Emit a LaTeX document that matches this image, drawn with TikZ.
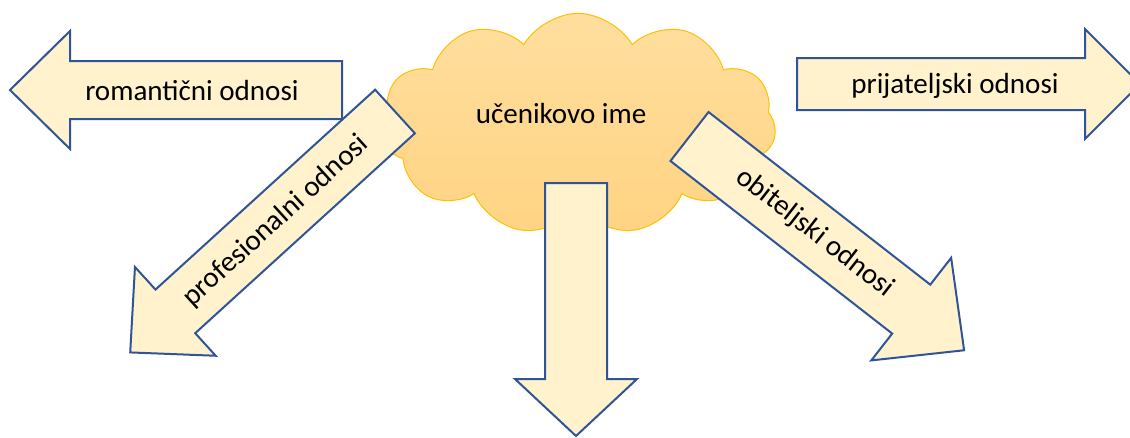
\documentclass[tikz,border=0pt]{standalone}
\usepackage{fontspec}
\setmainfont{Carlito}
\usetikzlibrary{shapes.symbols}
\definecolor{arrowfill}{HTML}{FFF2CC}
\definecolor{arrowline}{HTML}{2F5597}
\definecolor{cloudtop}{HTML}{FFDE9E}
\definecolor{cloudbottom}{HTML}{FFD483}
\definecolor{cloudline}{HTML}{FFC000}
\newcommand{\blockarrow}[6]% tail, angle, length, half shaft, head length, half head
{\draw[arrowbox, shift={(#1)}, rotate=#2] (0,-#4) -- ({#3-#5},-#4) -- ({#3-#5},-#6) -- (#3,0) -- ({#3-#5},#6) -- ({#3-#5},#4) -- (0,#4) -- cycle;
}

\begin{document}
\begin{tikzpicture}[x=0.75pt, y=-0.75pt,
	arrowbox/.style={fill=arrowfill, draw=arrowline, line width=1.5pt, line join=miter},
	labeltext/.style={font=\fontsize{21.8}{26}\selectfont, inner sep=0pt}]
	\useasboundingbox (0,0) rectangle (1130,437);
	\node[cloud, cloud puffs=11, cloud puff arc=120, aspect=1.8, minimum width=297pt, minimum height=166pt,
		top color=cloudtop, bottom color=cloudbottom, draw=cloudline, line width=0.75pt] (oblak) at (578,124) {};
	\blockarrow{342,90}{180}{332}{29}{60}{59}%romanticni
	\blockarrow{797,84}{0}{343}{26}{55}{55}%prijateljski
	\blockarrow{576,183}{-90}{253}{31}{57}{61}%dolje
	\blockarrow{395,111.5}{222.3}{358}{29.5}{61}{60}%profesionalni
	\blockarrow{689.5,136.5}{-37.9}{348}{31}{67}{65}%obiteljski
	\node[labeltext] (ime) at (561,114) {učenikovo ime};
	\node[labeltext] (romanticni) at (192,91) {romantični odnosi};
	\node[labeltext] (prijateljski) at (955,86) {prijateljski odnosi};
	\node[labeltext, rotate=42.3] (profesionalni) at (276,221) {profesionalni odnosi};
	\node[labeltext, rotate=-37.9] (obiteljski) at (815,233) {obiteljski odnosi};
\end{tikzpicture}
\end{document}
